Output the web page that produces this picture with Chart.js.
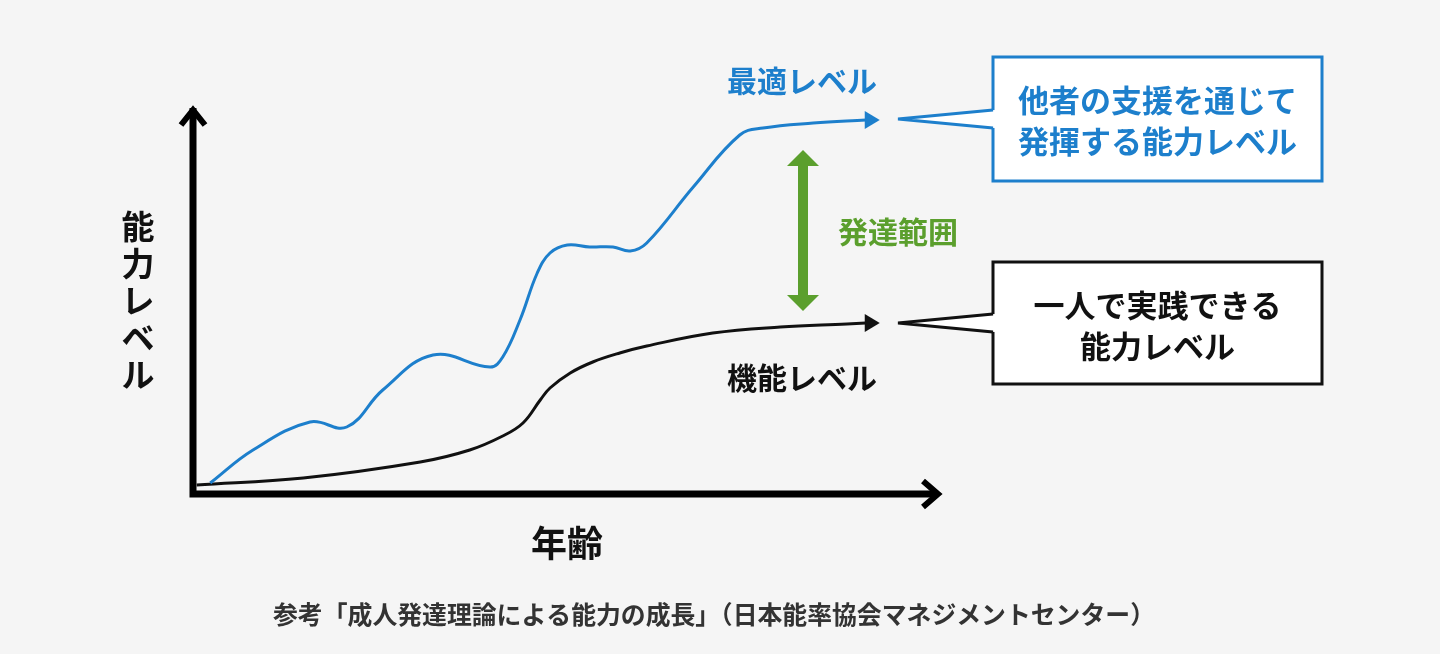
<!DOCTYPE html>
<html lang="ja">
<head>
<meta charset="utf-8">
<title>成人発達理論による能力の成長</title>
<script src="https://cdn.jsdelivr.net/npm/chart.js@4.4.1/dist/chart.umd.min.js"></script>
<style>
  html, body { margin: 0; padding: 0; background: #f5f5f5; }
  #wrap { position: relative; width: 1440px; height: 654px; }
</style>
</head>
<body>
<div id="wrap"><canvas id="chart"></canvas></div>
<script>
// Age (x) and ability level (y), both on a 0-100 scale
const optimalAge   = [2.3, 8, 15.6, 20.5, 25.3, 32, 39.6, 41.3, 43.6, 45.9, 47.6, 49.9, 52.9, 56, 58.3, 60.5, 66.7, 72.9, 76, 82.7, 89.7];
const optimalLevel = [2.75, 11, 18, 16.75, 26, 34.75, 31.75, 34.25, 43.5, 55.25, 60.25, 62.25, 61.75, 61.75, 60.75, 62.75, 76.75, 89.75, 91.5, 92.75, 93.5];
const functionalAge   = [0.5, 14.7, 30.3, 36.9, 41.3, 44, 46.3, 47.6, 50.3, 53.3, 56.9, 60.5, 69.3, 78.3, 87.2, 89.7];
const functionalLevel = [2.25, 4, 8, 11, 14.5, 17.75, 23.5, 26.5, 30.25, 33, 35.25, 37, 40.25, 41.75, 42.5, 42.75];

const BLUE = '#1d7fcc';
const GREEN = '#5b9f2d';
const FONT = '"Noto Sans CJK JP", "Noto Sans", sans-serif';

const toPoints = (xs, ys) => xs.map((x, i) => ({ x: x, y: ys[i] }));

function arrowHead(ctx, x, y, color) {
  ctx.fillStyle = color;
  ctx.beginPath();
  ctx.moveTo(x - 1, y - 9);
  ctx.lineTo(x + 14, y);
  ctx.lineTo(x - 1, y + 9);
  ctx.closePath();
  ctx.fill();
}

function callout(ctx, box, tipX, tipY, color, lines) {
  const { l, t, r, b } = box;
  ctx.lineWidth = 3;
  ctx.strokeStyle = color;
  ctx.fillStyle = '#fff';
  ctx.fillRect(l, t, r - l, b - t);
  ctx.strokeRect(l, t, r - l, b - t);
  // tail
  ctx.beginPath();
  ctx.moveTo(l + 2, tipY - 9);
  ctx.lineTo(tipX, tipY);
  ctx.lineTo(l + 2, tipY + 9);
  ctx.closePath();
  ctx.fill();
  ctx.beginPath();
  ctx.moveTo(l, tipY - 9);
  ctx.lineTo(tipX, tipY);
  ctx.lineTo(l, tipY + 9);
  ctx.stroke();
  ctx.fillStyle = color;
  ctx.font = 'bold 31px ' + FONT;
  ctx.textAlign = 'center';
  ctx.textBaseline = 'middle';
  const cx = (l + r) / 2;
  ctx.fillText(lines[0], cx, t + 43);
  ctx.fillText(lines[1], cx, t + 84);
}

const decor = {
  id: 'decor',
  afterDatasetsDraw(chart) {
    const ctx = chart.ctx;
    const area = chart.chartArea;
    const ox = area.left, oy = area.bottom;
    ctx.save();

    // axes with open chevron arrow heads
    ctx.strokeStyle = '#000';
    ctx.lineWidth = 7;
    ctx.lineCap = 'butt';
    ctx.lineJoin = 'miter';
    ctx.beginPath();
    ctx.moveTo(ox, oy + 3.5);
    ctx.lineTo(ox, 108);
    ctx.moveTo(ox - 3.5, oy);
    ctx.lineTo(936, oy);
    ctx.stroke();
    ctx.lineWidth = 6;
    ctx.beginPath();
    ctx.moveTo(ox - 12, 125);
    ctx.lineTo(ox, 110);
    ctx.lineTo(ox + 12, 125);
    ctx.moveTo(923, oy - 13);
    ctx.lineTo(938, oy);
    ctx.lineTo(923, oy + 13);
    ctx.stroke();

    // arrow heads at the end of both curves
    [0, 1].forEach(i => {
      const meta = chart.getDatasetMeta(i);
      const last = meta.data[meta.data.length - 1];
      arrowHead(ctx, last.x, last.y, chart.data.datasets[i].borderColor);
    });

    // axis titles
    ctx.fillStyle = '#111';
    ctx.textAlign = 'center';
    ctx.textBaseline = 'middle';
    ctx.font = 'bold 33px ' + FONT;
    '能力レベル'.split('').forEach((ch, i) => ctx.fillText(ch, 138, 226 + i * 37));
    ctx.font = 'bold 36px ' + FONT;
    ctx.fillText('年齢', 567, 543);

    // curve labels
    ctx.font = 'bold 30px ' + FONT;
    ctx.fillStyle = BLUE;
    ctx.fillText('最適レベル', 802, 81);
    ctx.fillStyle = '#111';
    ctx.fillText('機能レベル', 802, 378);
    ctx.fillStyle = GREEN;
    ctx.fillText('発達範囲', 898, 232);

    // green double arrow (development range)
    const ax = 803;
    ctx.fillStyle = GREEN;
    ctx.beginPath();
    ctx.moveTo(ax, 150);
    ctx.lineTo(ax + 16, 166);
    ctx.lineTo(ax + 5, 166);
    ctx.lineTo(ax + 5, 295);
    ctx.lineTo(ax + 16, 295);
    ctx.lineTo(ax, 311);
    ctx.lineTo(ax - 16, 295);
    ctx.lineTo(ax - 5, 295);
    ctx.lineTo(ax - 5, 166);
    ctx.lineTo(ax - 16, 166);
    ctx.closePath();
    ctx.fill();

    // callout boxes
    callout(ctx, { l: 993, t: 57, r: 1322, b: 181 }, 898, 119, BLUE, ['他者の支援を通じて', '発揮する能力レベル']);
    callout(ctx, { l: 993, t: 262, r: 1322, b: 384 }, 898, 323, '#111', ['一人で実践できる', '能力レベル']);

    // source note
    ctx.fillStyle = '#333';
    ctx.font = 'bold 25px ' + FONT;
    ctx.textAlign = 'center';
    ctx.fillText('参考「成人発達理論による能力の成長」（日本能率協会マネジメントセンター）', 714, 614, 882);

    ctx.restore();
  }
};

new Chart(document.getElementById('chart'), {
  type: 'line',
  data: {
    datasets: [
      {
        label: '最適レベル',
        data: toPoints(optimalAge, optimalLevel),
        borderColor: BLUE,
        borderWidth: 3,
        tension: 0.4,
        pointRadius: 0
      },
      {
        label: '機能レベル',
        data: toPoints(functionalAge, functionalLevel),
        borderColor: '#111',
        borderWidth: 3,
        tension: 0.4,
        pointRadius: 0
      }
    ]
  },
  options: {
    responsive: true,
    maintainAspectRatio: false,
    animation: false,
    layout: { padding: { left: 193, right: 497, top: 94, bottom: 160 } },
    scales: {
      x: { type: 'linear', min: 0, max: 100, display: false },
      y: { min: 0, max: 100, display: false }
    },
    plugins: {
      legend: { display: false },
      tooltip: { enabled: false }
    }
  },
  plugins: [decor]
});
</script>
</body>
</html>
